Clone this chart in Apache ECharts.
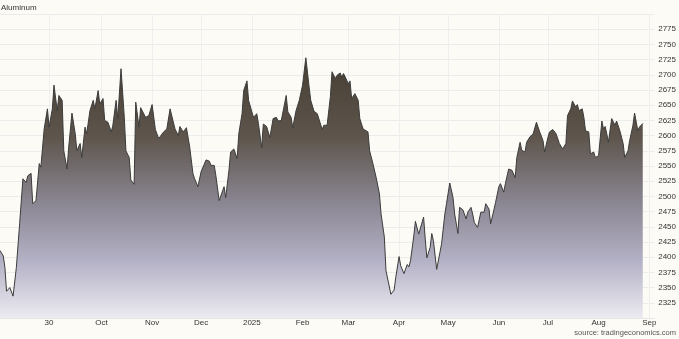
<!DOCTYPE html>
<html>
<head>
<meta charset="utf-8">
<script src="https://cdn.jsdelivr.net/npm/echarts@6/dist/echarts.min.js"></script>
<style>
html,body{margin:0;padding:0;background:#fcfbf6;}
#chart{width:679px;height:339px;}
</style>
</head>
<body>
<div id="chart"></div>
<script>
const title = 'Aluminum';
const source = 'source: tradingeconomics.com';
const axisStart = '2024-07-31';
const axisEnd = '2025-09-04';
const monthNames = ['Jan','Feb','Mar','Apr','May','Jun','Jul','Aug','Sep','Oct','Nov','Dec'];
const labelDates = ['2024-08-30','2024-10-01','2024-11-01','2024-12-01','2025-01-01','2025-02-01','2025-03-01','2025-04-01','2025-05-01','2025-06-01','2025-07-01','2025-08-01','2025-09-01'];

const dates = [
'2024-07-31','2024-08-02','2024-08-03','2024-08-04','2024-08-06','2024-08-08','2024-08-10','2024-08-12','2024-08-14','2024-08-16',
'2024-08-17','2024-08-19','2024-08-20','2024-08-22','2024-08-24','2024-08-25','2024-08-27','2024-08-29','2024-08-30','2024-09-01',
'2024-09-02','2024-09-04','2024-09-05','2024-09-07','2024-09-08','2024-09-10','2024-09-11','2024-09-13','2024-09-15','2024-09-16',
'2024-09-18','2024-09-19','2024-09-21','2024-09-22','2024-09-24','2024-09-26','2024-09-27','2024-09-29','2024-09-30','2024-10-02',
'2024-10-03','2024-10-05','2024-10-07','2024-10-08','2024-10-10','2024-10-11','2024-10-13','2024-10-15','2024-10-16','2024-10-18',
'2024-10-19','2024-10-21','2024-10-22','2024-10-24','2024-10-25','2024-10-28','2024-10-30','2024-11-01','2024-11-03','2024-11-05',
'2024-11-08','2024-11-10','2024-11-12','2024-11-13','2024-11-15','2024-11-17','2024-11-18','2024-11-20','2024-11-22','2024-11-24',
'2024-11-26','2024-11-27','2024-11-29','2024-12-01','2024-12-02','2024-12-04','2024-12-06','2024-12-07','2024-12-09','2024-12-10',
'2024-12-12','2024-12-13','2024-12-15','2024-12-16','2024-12-18','2024-12-19','2024-12-21','2024-12-23','2024-12-24','2024-12-26',
'2024-12-27','2024-12-29','2024-12-30','2025-01-01','2025-01-02','2025-01-04','2025-01-05','2025-01-07','2025-01-08','2025-01-10',
'2025-01-12','2025-01-14','2025-01-16','2025-01-17','2025-01-19','2025-01-22','2025-01-23','2025-01-25','2025-01-26','2025-01-28',
'2025-01-30','2025-02-01','2025-02-03','2025-02-05','2025-02-06','2025-02-08','2025-02-10','2025-02-11','2025-02-13','2025-02-14',
'2025-02-16','2025-02-18','2025-02-19','2025-02-21','2025-02-22','2025-02-24','2025-02-25','2025-02-26','2025-02-27','2025-03-01',
'2025-03-02','2025-03-03','2025-03-05','2025-03-07','2025-03-08','2025-03-10','2025-03-13','2025-03-14','2025-03-16','2025-03-18',
'2025-03-20','2025-03-21','2025-03-23','2025-03-24','2025-03-25','2025-03-27','2025-03-29','2025-03-30','2025-04-01','2025-04-02',
'2025-04-04','2025-04-06','2025-04-07','2025-04-08','2025-04-10','2025-04-11','2025-04-13','2025-04-14','2025-04-16','2025-04-17',
'2025-04-18','2025-04-20','2025-04-21','2025-04-22','2025-04-24','2025-04-26','2025-04-27','2025-04-29','2025-04-30','2025-05-02',
'2025-05-04','2025-05-05','2025-05-07','2025-05-08','2025-05-10','2025-05-12','2025-05-13','2025-05-15','2025-05-16','2025-05-17',
'2025-05-19','2025-05-20','2025-05-21','2025-05-23','2025-05-24','2025-05-26','2025-05-27','2025-05-29','2025-05-30','2025-06-01',
'2025-06-02','2025-06-04','2025-06-05','2025-06-07','2025-06-08','2025-06-09','2025-06-11','2025-06-12','2025-06-14','2025-06-15',
'2025-06-17','2025-06-18','2025-06-20','2025-06-22','2025-06-24','2025-06-26','2025-06-28','2025-06-29','2025-07-01','2025-07-02',
'2025-07-04','2025-07-06','2025-07-08','2025-07-10','2025-07-12','2025-07-13','2025-07-15','2025-07-16','2025-07-18','2025-07-19',
'2025-07-20','2025-07-22','2025-07-23','2025-07-24','2025-07-26','2025-07-27','2025-07-29','2025-07-30','2025-08-01','2025-08-03',
'2025-08-04','2025-08-05','2025-08-06','2025-08-07','2025-08-09','2025-08-11','2025-08-12','2025-08-14','2025-08-16','2025-08-17',
'2025-08-19','2025-08-20','2025-08-22','2025-08-23','2025-08-25','2025-08-26','2025-08-28'
];

const prices = [
2411,2402,2383,2344,2350,2336,2383,2455,2529,2523,
2534,2538,2488,2493,2554,2548,2611,2644,2614,2644,
2683,2641,2666,2658,2575,2545,2581,2637,2603,2575,
2587,2564,2614,2603,2641,2658,2644,2674,2652,2661,
2625,2622,2606,2617,2658,2628,2710,2630,2575,2564,
2527,2520,2655,2614,2646,2630,2633,2651,2610,2595,
2606,2611,2644,2643,2611,2600,2615,2606,2613,2581,
2537,2529,2516,2541,2540,2560,2558,2551,2551,2534,
2493,2490,2516,2498,2543,2573,2578,2562,2603,2636,
2674,2690,2658,2639,2630,2636,2620,2580,2619,2615,
2597,2628,2630,2624,2625,2666,2639,2630,2613,2641,
2658,2683,2728,2680,2658,2640,2636,2633,2610,2617,
2617,2664,2705,2694,2699,2703,2696,2702,2697,2685,
2690,2661,2669,2658,2628,2611,2606,2575,2554,2531,
2504,2471,2433,2378,2378,2339,2346,2367,2401,2386,
2373,2388,2384,2394,2435,2459,2438,2437,2466,2430,
2399,2416,2439,2427,2380,2408,2422,2471,2488,2522,
2498,2471,2439,2482,2478,2463,2474,2482,2471,2457,
2449,2446,2474,2474,2488,2479,2455,2478,2490,2516,
2521,2507,2521,2545,2547,2543,2531,2564,2589,2576,
2573,2589,2598,2603,2622,2606,2592,2573,2597,2606,
2610,2603,2587,2578,2587,2633,2644,2657,2647,2651,
2641,2644,2630,2608,2606,2570,2573,2564,2567,2624,
2611,2615,2603,2589,2628,2617,2624,2608,2587,2564,
2575,2592,2617,2637,2608,2614,2620
];

// build the daily category axis
function fmt(d){
  const m = String(d.getUTCMonth()+1).padStart(2,'0');
  const dd = String(d.getUTCDate()).padStart(2,'0');
  return d.getUTCFullYear()+'-'+m+'-'+dd;
}
const categories = [];
for (let t = Date.parse(axisStart+'T00:00:00Z'); t <= Date.parse(axisEnd+'T00:00:00Z'); t += 86400000) {
  categories.push(fmt(new Date(t)));
}
const labelSet = new Set(labelDates);
const showTick = (idx, val) => labelSet.has(val);
const font = 'Liberation Sans, Arial, sans-serif';

const chart = echarts.init(document.getElementById('chart'), null, {renderer:'canvas'});
chart.setOption({
  backgroundColor: '#fcfbf6',
  animation: false,
  title: [
    {text: title, left: 1, top: 4, padding: 0, textStyle:{fontSize: 8, fontWeight: 'normal', color:'#333', fontFamily: font}},
    {text: source, right: 3, bottom: 2, padding: 0, textStyle:{fontSize: 7.5, fontWeight: 'normal', color:'#555', fontFamily: font}}
  ],
  grid: {left: 0, right: 24, top: 14, bottom: 21, containLabel: false, show: false},
  xAxis: {
    type: 'category',
    data: categories,
    boundaryGap: false,
    axisLine: {show: true, lineStyle:{color:'#e6e6e6', width: 1}},
    axisTick: {show: false},
    splitLine: {show: true, interval: showTick, lineStyle:{color:'#efefef', width: 1}},
    axisLabel: {
      interval: showTick,
      margin: 1,
      fontSize: 8,
      color: '#333',
      fontFamily: font,
      formatter: function(val){
        const p = val.split('-');
        const m = parseInt(p[1],10), d = parseInt(p[2],10);
        if (d !== 1) return String(d);
        if (m === 1) return p[0];
        return monthNames[m-1];
      }
    }
  },
  yAxis: {
    type: 'value',
    position: 'right',
    min: 2300, max: 2800, interval: 25,
    axisLine: {show: false},
    axisTick: {show: false},
    splitLine: {show: true, lineStyle:{color:'#ececec', width: 1}},
    axisLabel: {
      showMinLabel: false, showMaxLabel: false,
      margin: 4, fontSize: 8, color: '#333',
      fontFamily: font,
      formatter: v => String(v)
    }
  },
  series: [{
    type: 'line',
    data: dates.map((d,i)=>[d, prices[i]]),
    showSymbol: false,
    symbol: 'none',
    lineStyle: {color: '#3c3c3c', width: 1},
    areaStyle: {
      color: new echarts.graphic.LinearGradient(0,0,0,1,[
        {offset:0, color:'#463d33'},
        {offset:0.3, color:'#5d544b'},
        {offset:0.55, color:'#898490'},
        {offset:0.78, color:'#b3b1c5'},
        {offset:1, color:'#ecebf1'}
      ]),
      opacity: 1
    }
  }]
});
</script>
</body>
</html>
